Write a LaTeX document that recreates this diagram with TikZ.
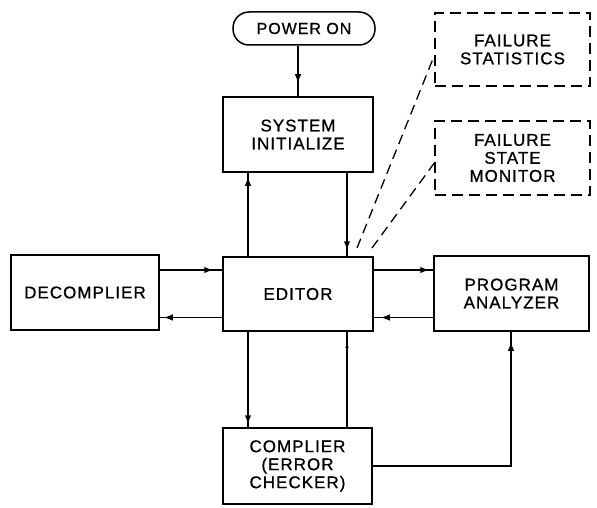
\documentclass[tikz,border=0pt]{standalone}
\usepackage{fontspec}
\setmainfont{Liberation Sans}[LetterSpace=6,FakeBold=0.8]
\usetikzlibrary{arrows.meta,decorations.markings,calc}
\begin{document}
\begin{tikzpicture}[x=1pt,y=-1pt,
  box/.style={draw,line width=1.5pt,inner sep=0pt,align=center,
    font=\fontsize{17}{18}\selectfont},
  dbox/.style={box,line width=1.4pt,dash pattern=on 11pt off 6pt},
  conn/.style={line width=1.5pt},
  dconn/.style={line width=1.3pt,dash pattern=on 10pt off 6pt},
  arr/.style={decoration={markings,mark=at position #1 with {\arrow{Latex[length=9pt,width=6.5pt]}}},postaction={decorate}},
  sarr/.style={decoration={markings,mark=at position #1 with {\arrow{Latex[length=6pt,width=3.5pt]}}},postaction={decorate}}
]
\useasboundingbox (0,0) rectangle (597,508);
\fill[white] (0,0) rectangle (597,508);

\node[box,rounded corners=16pt,minimum width=142pt,minimum height=33pt,
  font=\fontsize{16}{18}\selectfont] (pw) at (304,28.5) {POWER ON};
\node[box,minimum width=150pt,minimum height=75pt] (si) at (298,134.5) {SYSTEM\\INITIALIZE};
\node[dbox,minimum width=155pt,minimum height=73pt] (fs) at (512.5,49.5) {FAILURE\\STATISTICS};
\node[dbox,minimum width=155pt,minimum height=74pt] (fm) at (512.5,158) {FAILURE\\STATE\\MONITOR};
\node[box,minimum width=148pt,minimum height=75pt] (dc) at (85,292.5) {DECOMPLIER};
\node[box,minimum width=150pt,minimum height=74pt] (ed) at (298,294) {EDITOR};
\node[box,minimum width=155pt,minimum height=75pt] (pa) at (511.5,293.5) {PROGRAM\\ANALYZER};
\node[box,minimum width=149pt,minimum height=76pt] (cp) at (297.5,466) {COMPLIER\\(ERROR\\CHECKER)};

\coordinate (xA) at (248,0);
\coordinate (xB) at (347,0);
\coordinate (xC) at (511,0);
\coordinate (yA) at (0,270);
\coordinate (yB) at (0,317.5);
\coordinate (yC) at (0,466);
\coordinate (d1) at (357,248);
\coordinate (d2) at (372,248);

\draw[conn,arr=-13pt] (si.north |- pw.south) -- (si.north);
\draw[conn,arr=-6pt] (si.south -| xB) -- (ed.north -| xB);
\draw[conn,arr=-4pt] (ed.north -| xA) -- (si.south -| xA);
\draw[conn,arr=-9pt] (dc.east |- yA) -- (ed.west |- yA);
\draw[conn,arr=-4pt] (ed.west |- yB) -- (dc.east |- yB);
\draw[conn,arr=-4pt] (ed.east |- yA) -- (pa.west |- yA);
\draw[conn,arr=-7pt] (pa.west |- yB) -- (ed.east |- yB);
\draw[conn,arr=-3pt] (ed.south -| xA) -- (cp.north -| xA);
\draw[conn,sarr=-10pt] (cp.north -| xB) -- (ed.south -| xB);
\draw[conn,arr=-10pt] (cp.east |- yC) -| (pa.south -| xC);

\draw[dconn] (d1) -- ($(fs.west)+(0,6)$);
\draw[dconn] (d2) -- ($(fm.west)+(0,5)$);
\end{tikzpicture}
\end{document}
